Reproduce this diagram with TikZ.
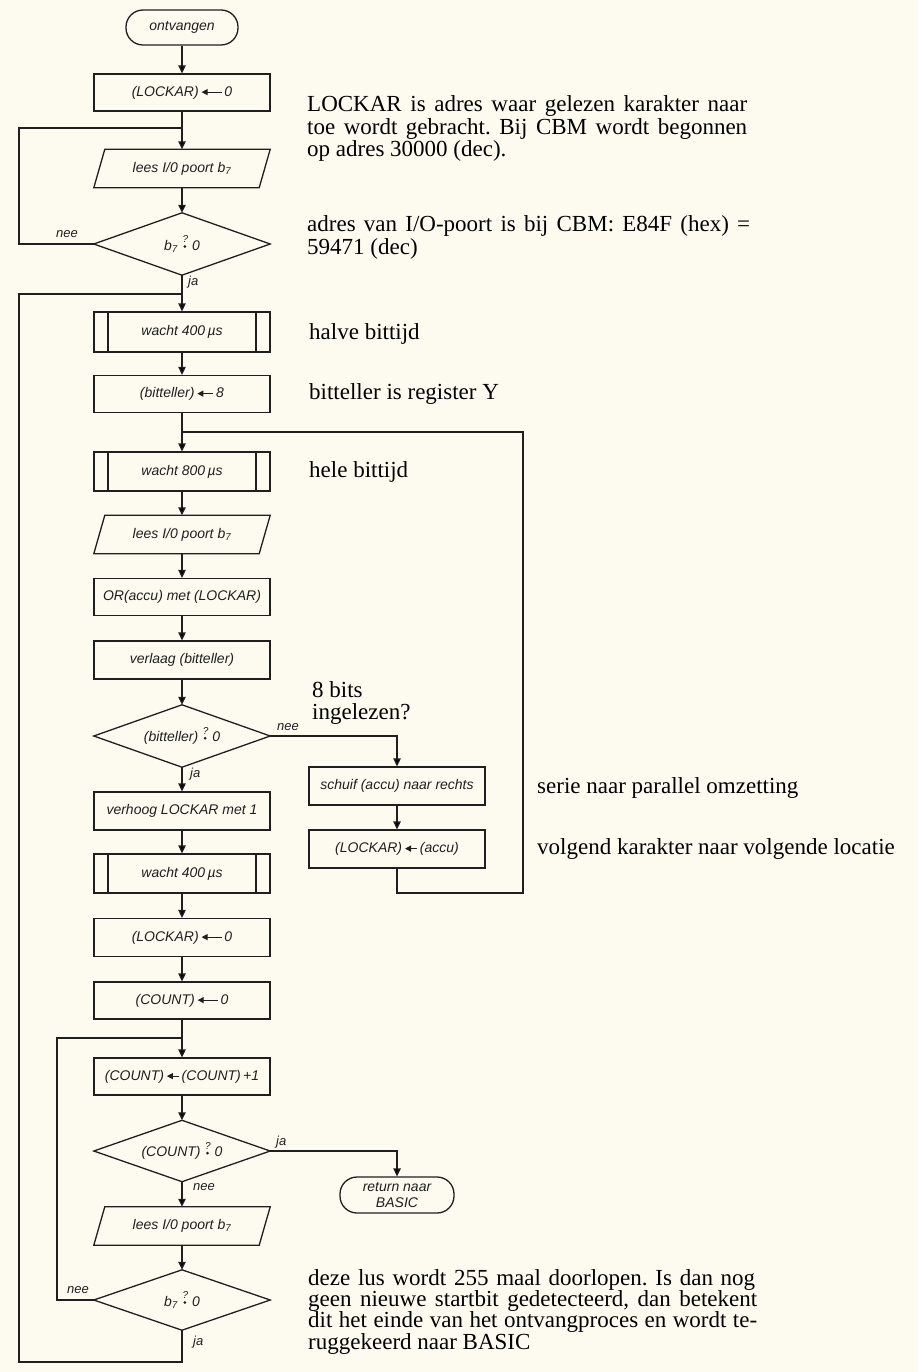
\documentclass[tikz,border=0pt]{standalone}
\usepackage{fontspec}
\setmainfont{Liberation Serif}
\newfontfamily\flowfont{Liberation Sans}
\usetikzlibrary{arrows.meta}
\definecolor{paper}{HTML}{FDFBF0}
\definecolor{ink}{HTML}{1F1F1F}
\frenchspacing
\newcommand\tarr[1][16pt]{\tikz[baseline={(0pt,-4pt)}]\draw[ink,line width=1.1pt,{Triangle[length=6pt,width=6pt]}-](0pt,0pt)--(#1,0pt);}
\newcommand\qcmp{\tikz[baseline={(0pt,0pt)}]{\fill[ink] (0pt,3.6pt) circle (1.5pt); \path (-3pt,0pt) (3pt,0pt); \node[inner sep=0pt, minimum width=0pt, minimum height=0pt, draw=none, anchor=base, font=\flowfont\itshape\fontsize{10}{10}\selectfont, text=ink] (qm) at (0.5pt,7.5pt) {?};}}
\newcommand\rtxt{\fontsize{23}{22.4}\selectfont}
\tikzset{
  fl/.style={font=\flowfont\itshape\fontsize{14}{16}\selectfont, text=ink},
  box/.style={fl, draw=ink, line width=1.3pt, rectangle, minimum width=176pt, minimum height=37pt, inner sep=0pt},
  pbox/.style={box, path picture={\draw[ink,line width=1.3pt]
      ([xshift=14pt]path picture bounding box.north west) -- ([xshift=14pt]path picture bounding box.south west)
      ([xshift=-14pt]path picture bounding box.north east) -- ([xshift=-14pt]path picture bounding box.south east);}},
  iobox/.style={fl, rectangle, minimum width=165pt, minimum height=38pt, inner sep=0pt},
  dbox/.style={fl, rectangle, minimum width=176pt, minimum height=61pt, inner sep=0pt},
  term/.style={fl, draw=ink, line width=1.3pt, rectangle, rounded corners=17pt, inner sep=0pt},
  ln/.style={draw=ink, line width=1.3pt},
  arr/.style={ln, -{Triangle[length=8pt,width=7.5pt]}},
  lab/.style={font=\flowfont\itshape\fontsize{13}{15}\selectfont, text=ink, inner sep=0pt, anchor=base west},
  rt/.style={font=\rtxt, text=black, inner sep=0pt, anchor=base west}
}
\newcommand\para[1]{\draw[ln] ([xshift=5.5pt]#1.north west) -- ([xshift=5.5pt]#1.north east) -- ([xshift=-5.5pt]#1.south east) -- ([xshift=-5.5pt]#1.south west) -- cycle;}
\newcommand\dia[1]{\draw[ln] (#1.north) -- (#1.east) -- (#1.south) -- (#1.west) -- cycle;}
\begin{document}
\begin{tikzpicture}[x=1pt,y=-1pt]
\fill[paper] (0,0) rectangle (918,1372);
\useasboundingbox (0,0) rectangle (918,1372);
\def\cx{182}
% main column
\node[term, minimum width=112pt, minimum height=35pt] (ontv) at (\cx,27.5) {ontvangen};
\node[box] (lock1) at (\cx,92.5) {(LOCKAR)\,\tarr[20pt]\,0};
\node[iobox] (lees1) at (\cx,168.5) {lees I/0 poort b\textsubscript{7}};
\node[dbox, minimum height=62pt] (d1) at (\cx,244) {b\textsubscript{7}\ \qcmp\ 0};
\node[pbox, minimum height=40pt] (w1) at (\cx,332) {wacht 400\,µs};
\node[box] (bit8) at (\cx,394) {(bitteller)\,\tarr\,8};
\node[pbox, minimum height=39pt] (w2) at (\cx,471.5) {wacht 800\,µs};
\node[iobox] (lees2) at (\cx,534.5) {lees I/0 poort b\textsubscript{7}};
\node[box] (or) at (\cx,597) {OR(accu) met (LOCKAR)};
\node[box, minimum height=38pt] (verl) at (\cx,660) {verlaag (bitteller)};
\node[dbox, minimum height=62pt] (d2) at (\cx,736) {(bitteller)\ \qcmp\ 0};
\node[box, minimum height=38pt] (verh) at (\cx,811) {verhoog LOCKAR met 1};
\node[pbox, minimum height=39pt] (w3) at (\cx,873.5) {wacht 400\,µs};
\node[box, minimum height=38pt] (lock2) at (\cx,937.5) {(LOCKAR)\,\tarr[20pt]\,0};
\node[box] (cnt0) at (\cx,1000.5) {(COUNT)\,\tarr[20pt]\,0};
\node[box] (cnt1) at (\cx,1076.5) {(COUNT)\,\tarr[12pt]\,(COUNT)\,+1};
\node[dbox, minimum height=61pt] (d3) at (\cx,1151) {(COUNT)\ \qcmp\ 0};
\node[iobox] (lees3) at (\cx,1226) {lees I/0 poort b\textsubscript{7}};
\node[dbox, minimum height=60pt] (d4) at (\cx,1300) {b\textsubscript{7}\ \qcmp\ 0};
% right branch
\node[box, minimum height=38pt] (schuif) at (397,786) {schuif (accu) naar rechts};
\node[box, minimum height=38pt] (lacc) at (397,849) {(LOCKAR)\,\tarr[12pt]\,(accu)};
\node[term, minimum width=114pt, minimum height=36pt, align=center] (ret) at (397,1195) {return naar\\BASIC};
% shapes
\para{lees1}\para{lees2}\para{lees3}
\dia{d1}\dia{d2}\dia{d3}\dia{d4}
% junction coordinates
\coordinate (j1) at (\cx,128);
\coordinate (j2) at (\cx,294);
\coordinate (j3) at (\cx,432);
\coordinate (j4) at (\cx,1038);
\coordinate (l1) at (19,128);
\coordinate (o1) at (19,294);
\coordinate (ob) at (19,1362);
\coordinate (i1) at (57,1038);
\coordinate (rt1) at (523,432);
\coordinate (rb1) at (523,893);
% connectors
\draw[arr] (ontv) -- (lock1);
\draw[arr] (lock1) -- (lees1);
\draw[arr] (lees1) -- (d1.north);
\draw[ln] (d1.west) -| (l1) -- (j1);
\draw[arr] (d1.south) -- (w1);
\draw[arr] (w1) -- (bit8);
\draw[arr] (bit8) -- (w2);
\draw[arr] (w2) -- (lees2);
\draw[arr] (lees2) -- (or);
\draw[arr] (or) -- (verl);
\draw[arr] (verl) -- (d2.north);
\draw[arr] (d2.east) -| (schuif.north);
\draw[arr] (schuif) -- (lacc);
\draw[ln] (lacc.south) |- (rb1) -- (rt1) -- (j3);
\draw[arr] (d2.south) -- (verh);
\draw[arr] (verh) -- (w3);
\draw[arr] (w3) -- (lock2);
\draw[arr] (lock2) -- (cnt0);
\draw[arr] (cnt0) -- (cnt1);
\draw[arr] (cnt1) -- (d3.north);
\draw[arr] (d3.east) -| (ret.north);
\draw[arr] (d3.south) -- (lees3);
\draw[arr] (lees3) -- (d4.north);
\draw[ln] (d4.west) -| (i1) -- (j4);
\draw[ln] (d4.south) |- (ob) -- (o1) -- (j2);
% branch labels
\node[lab] (n1) at (56,238) {nee};
\node[lab] (y1) at (188,285) {ja};
\node[lab] (n2) at (277,730) {nee};
\node[lab] (y2) at (190,777) {ja};
\node[lab] (y3) at (276,1145) {ja};
\node[lab] (n3) at (193,1190) {nee};
\node[lab] (n4) at (67,1293) {nee};
\node[lab] (y4) at (193,1345) {ja};
% remarks
\node[rt] (t1) at (307,112) {\parbox[t]{440pt}{\rtxt
  \hbox to 440pt{LOCKAR is adres waar gelezen karakter naar}
  \hbox to 440pt{toe wordt gebracht. Bij CBM wordt begonnen}
  \hbox{op adres 30000 (dec).}}};
\node[rt] (t2) at (307,232) {\parbox[t]{443pt}{\rtxt
  \hbox to 443pt{adres van I/O-poort is bij CBM: E84F (hex) =}
  \hbox{59471 (dec)}}};
\node[rt] (t3) at (309,339) {halve bittijd};
\node[rt] (t4) at (309,399) {bitteller is register Y};
\node[rt] (t5) at (309,477) {hele bittijd};
\node[rt] (t6) at (312,697) {\parbox[t]{200pt}{\rtxt
  \hbox{8 bits}
  \hbox{ingelezen?}}};
\node[rt] (t7) at (537,793) {serie naar parallel omzetting};
\node[rt] (t8) at (537,854) {volgend karakter naar volgende locatie};
\node[rt] (t9) at (308,1285) {\parbox[t]{449pt}{\fontsize{23}{21.4}\selectfont
  \hbox to 447pt{deze lus wordt 255 maal doorlopen. Is dan nog}
  \hbox to 449pt{geen nieuwe startbit gedetecteerd, dan betekent}
  \hbox to 449pt{dit het einde van het ontvangproces en wordt te-}
  \hbox{ruggekeerd naar BASIC}}};
\end{tikzpicture}
\end{document}
